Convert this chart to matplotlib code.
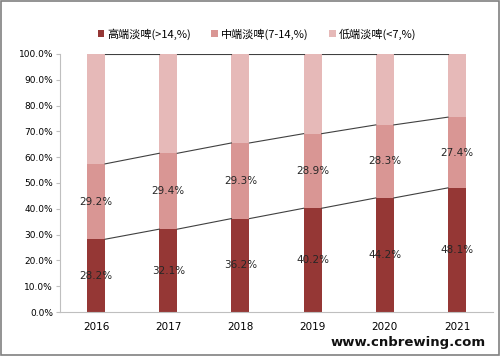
import numpy as np
import matplotlib.pyplot as plt

plt.rcParams['font.family'] = ['Noto Sans CJK SC', 'DejaVu Sans']

years = ['2016', '2017', '2018', '2019', '2020', '2021']
high = np.array([28.2, 32.1, 36.2, 40.2, 44.2, 48.1])
mid = np.array([29.2, 29.4, 29.3, 28.9, 28.3, 27.4])
low = 100 - high - mid
names = ['高端淡啤(>14,%)', '中端淡啤(7-14,%)', '低端淡啤(<7,%)']
colors = ['#953735', '#D99694', '#E6B9B8']

fig = plt.figure(figsize=(5.03, 3.57), dpi=100)
ax = fig.add_axes([0.1193, 0.126, 0.861, 0.723])

x = np.arange(len(years))
w = 0.25
bottoms = np.zeros(len(years))
for vals, name, c in zip([high, mid, low], names, colors):
    ax.bar(x, vals, w, bottom=bottoms, color=c, label=name, zorder=2)
    bottoms = bottoms + vals

# series lines between bars
for cum in [high, high + mid, high + mid + low]:
    for i in range(len(years) - 1):
        ax.plot([x[i] + w / 2, x[i + 1] - w / 2], [cum[i], cum[i + 1]],
                color='#404040', lw=0.8, zorder=3)

for i in range(len(years)):
    ax.text(x[i], high[i] / 2, '%.1f%%' % high[i], ha='center', va='center',
            fontsize=7.5, color='#262626', family='DejaVu Sans')
    ax.text(x[i], high[i] + mid[i] / 2, '%.1f%%' % mid[i], ha='center', va='center',
            fontsize=7.5, color='#262626', family='DejaVu Sans')

ax.set_xlim(-0.5, 5.5)
ax.set_ylim(0, 100)
ax.set_xticks(x)
ax.set_xticklabels(years, fontsize=7.5, family='DejaVu Sans')
ax.set_yticks(np.arange(0, 101, 10))
ax.set_yticklabels(['%.1f%%' % v for v in np.arange(0, 101, 10)], fontsize=6.5,
                   family='DejaVu Sans')
ax.tick_params(axis='x', length=0, pad=7)
ax.tick_params(axis='y', length=3, color='#BFBFBF', pad=2)
for s in ['top', 'right']:
    ax.spines[s].set_visible(False)
ax.spines['left'].set_color('#BFBFBF')
ax.spines['bottom'].set_color('#BFBFBF')

ax.legend(loc='center', bbox_to_anchor=(0.455, 1.078), ncol=3, frameon=False,
          fontsize=8, handlelength=0.6, handleheight=0.6, handletextpad=0.3,
          columnspacing=1.8)

fig.text(0.965, 0.022, 'www.cnbrewing.com', ha='right', va='bottom', fontsize=9.5,
         fontweight='bold', color='#111111', family='DejaVu Sans')

border = plt.Rectangle((0.002, 0.006), 0.99, 0.99, transform=fig.transFigure,
                       fill=False, edgecolor='#808080', lw=1.2)
fig.patches.append(border)

fig.savefig('out.png', dpi=100)
